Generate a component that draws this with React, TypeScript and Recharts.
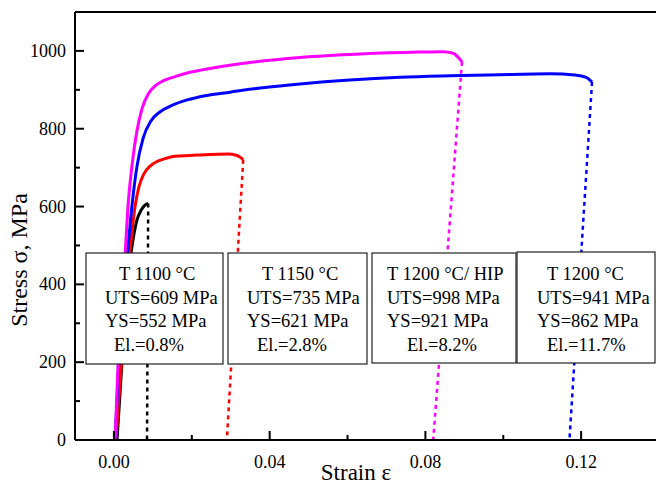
import React from "react";
import { LineChart, Line, XAxis, YAxis, ReferenceLine } from "recharts";

// tensile curves, strain (-) vs stress (MPa)
const t1100Strain = [0.0008, 0.0021, 0.0044, 0.0052, 0.0059, 0.007, 0.0079, 0.0088];
const t1100Stress = [0, 206, 481, 532, 565, 591, 603, 608];

const t1150Strain = [0.0005, 0.002, 0.0041, 0.0054, 0.0064, 0.0077, 0.0093, 0.0111, 0.0131, 0.0157, 0.0195, 0.0247, 0.0293, 0.0314, 0.0324, 0.0332];
const t1150Stress = [0, 206, 481, 599, 650, 684, 704, 716, 723, 729, 731, 734, 735, 732, 727, 720];

const hipStrain = [0.0003, 0.0011, 0.0029, 0.0036, 0.0046, 0.0059, 0.0072, 0.0088, 0.0106, 0.0126, 0.0157, 0.0195, 0.0247, 0.0324, 0.0478, 0.0632, 0.0786, 0.0845, 0.0871, 0.0894];
const hipStress = [0, 206, 481, 599, 702, 794, 851, 889, 910, 923, 934, 945, 955, 967, 983, 992, 997, 998, 994, 972];

const t1200Strain = [0.0003, 0.0013, 0.0035, 0.0046, 0.0059, 0.0075, 0.0095, 0.0118, 0.0149, 0.0188, 0.0234, 0.0298, 0.0388, 0.0478, 0.0606, 0.0735, 0.0863, 0.0992, 0.112, 0.1184, 0.1213, 0.1228];
const t1200Stress = [0, 206, 481, 599, 702, 776, 820, 843, 860, 874, 885, 894, 906, 915, 925, 932, 936, 939, 941, 938, 932, 920];

// fracture drops (dotted)
const t1100DropStrain = [0.0088, 0.0085];
const t1100DropStress = [608, 0];
const t1150DropStrain = [0.0332, 0.029];
const t1150DropStress = [720, 0];
const hipDropStrain = [0.0894, 0.082];
const hipDropStress = [972, 0];
const t1200DropStrain = [0.1228, 0.117];
const t1200DropStress = [920, 0];

const xTicks = [0, 0.02, 0.04, 0.06, 0.08, 0.1, 0.12];
const xLabelTicks = [0, 0.04, 0.08, 0.12];
const yTicks = [0, 100, 200, 300, 400, 500, 600, 700, 800, 900, 1000];
const yLabelTicks = [0, 200, 400, 600, 800, 1000];

const boxTitles = ["T 1100 °C", "T 1150 °C", "T 1200 °C/ HIP", "T 1200 °C"];
const boxUts = ["UTS=609 MPa", "UTS=735 MPa", "UTS=998 MPa", "UTS=941 MPa"];
const boxYs = ["YS=552 MPa", "YS=621 MPa", "YS=921 MPa", "YS=862 MPa"];
const boxEl = ["El.=0.8%", "El.=2.8%", "El.=8.2%", "El.=11.7%"];

const toPoints = (xs: number[], ys: number[]) => xs.map((x, i) => ({ x, y: ys[i] }));

const FONT = "'Liberation Serif', 'Times New Roman', serif";

// box layout: [left, top, width, height], then text x for each row
const boxRects = [
  [86, 253, 137, 111],
  [228, 253, 139, 111],
  [372, 253, 144, 110],
  [517, 252, 138, 111],
];
const boxTextX = [
  [119, 105, 105, 114],
  [262, 247, 247, 257],
  [387, 387, 387, 407],
  [547, 537, 537, 547],
];
const rowY = [280, 304, 327, 351];

const isIn = (arr: number[], v: number) => arr.some((t) => Math.abs(t - v) < 1e-9);

const XTick = (props: any) => {
  const { x, y, payload } = props;
  const major = isIn(xLabelTicks, payload.value);
  return (
    <g>
      <line x1={x} x2={x} y1={y} y2={y - (major ? 9 : 5)} stroke="#000" strokeWidth={2} />
      {major && (
        <text x={x} y={y + 28} textAnchor="middle" fontFamily={FONT} fontSize={18} fill="#000">
          {payload.value.toFixed(2)}
        </text>
      )}
    </g>
  );
};

const YTick = (props: any) => {
  const { x, y, payload } = props;
  const major = isIn(yLabelTicks, payload.value);
  return (
    <g>
      <line x1={x} x2={x + (major ? 9 : 5)} y1={y} y2={y} stroke="#000" strokeWidth={2} />
      {major && (
        <text x={x - 9} y={y + 6} textAnchor="end" fontFamily={FONT} fontSize={18} fill="#000">
          {payload.value}
        </text>
      )}
    </g>
  );
};

export default function App() {
  const solid = [
    { data: toPoints(t1100Strain, t1100Stress), color: "#000000" },
    { data: toPoints(t1150Strain, t1150Stress), color: "#ff0000" },
    { data: toPoints(t1200Strain, t1200Stress), color: "#0000ff" },
    { data: toPoints(hipStrain, hipStress), color: "#ff00ff" },
  ];
  const drops = [
    { data: toPoints(t1100DropStrain, t1100DropStress), color: "#000000" },
    { data: toPoints(t1150DropStrain, t1150DropStress), color: "#ff0000" },
    { data: toPoints(t1200DropStrain, t1200DropStress), color: "#0000ff" },
    { data: toPoints(hipDropStrain, hipDropStress), color: "#ff00ff" },
  ];

  return (
    <div
      style={{
        position: "absolute",
        left: 0,
        top: 0,
        width: 656,
        height: 485,
        overflow: "hidden",
        background: "#fff",
      }}
    >
      <LineChart width={660} height={485} margin={{ top: 12, right: 1, bottom: 15, left: 0 }}>
        <XAxis
          type="number"
          dataKey="x"
          domain={[-0.01, 0.14]}
          ticks={xTicks}
          interval={0}
          allowDataOverflow
          height={30}
          tickSize={0}
          tickMargin={0}
          tickLine={false}
          axisLine={{ stroke: "#000", strokeWidth: 2 }}
          tick={<XTick />}
        />
        <YAxis
          type="number"
          domain={[0, 1100]}
          ticks={yTicks}
          interval={0}
          allowDataOverflow
          width={75}
          tickSize={0}
          tickMargin={0}
          tickLine={false}
          axisLine={{ stroke: "#000", strokeWidth: 2 }}
          tick={<YTick />}
        />
        <ReferenceLine y={1100} stroke="#000" strokeWidth={2} />
        {drops.map((d, i) => (
          <Line
            key={"d" + i}
            data={d.data}
            dataKey="y"
            type="linear"
            stroke={d.color}
            strokeWidth={2.5}
            strokeDasharray="4 4"
            dot={false}
            isAnimationActive={false}
          />
        ))}
        {solid.map((s, i) => (
          <Line
            key={"s" + i}
            data={s.data}
            dataKey="y"
            type="monotone"
            stroke={s.color}
            strokeWidth={3}
            dot={false}
            isAnimationActive={false}
          />
        ))}
      </LineChart>
      <svg
        width={656}
        height={485}
        style={{ position: "absolute", left: 0, top: 0, pointerEvents: "none" }}
      >
        {boxRects.map((r, i) => (
          <g key={i}>
            <rect x={r[0]} y={r[1]} width={r[2]} height={r[3]} fill="#fff" stroke="#222" strokeWidth={1.2} />
            {[boxTitles[i], boxUts[i], boxYs[i], boxEl[i]].map((t, j) => (
              <text key={j} x={boxTextX[i][j]} y={rowY[j]} fontFamily={FONT} fontSize={18.5} fill="#000">
                {t}
              </text>
            ))}
          </g>
        ))}
        <text x={356} y={480} textAnchor="middle" fontFamily={FONT} fontSize={23} fill="#000">
          Strain ε
        </text>
        <text
          x={27}
          y={260}
          textAnchor="middle"
          transform="rotate(-90 27 260)"
          fontFamily={FONT}
          fontSize={24}
          fill="#000"
        >
          Stress σ, MPa
        </text>
      </svg>
    </div>
  );
}
